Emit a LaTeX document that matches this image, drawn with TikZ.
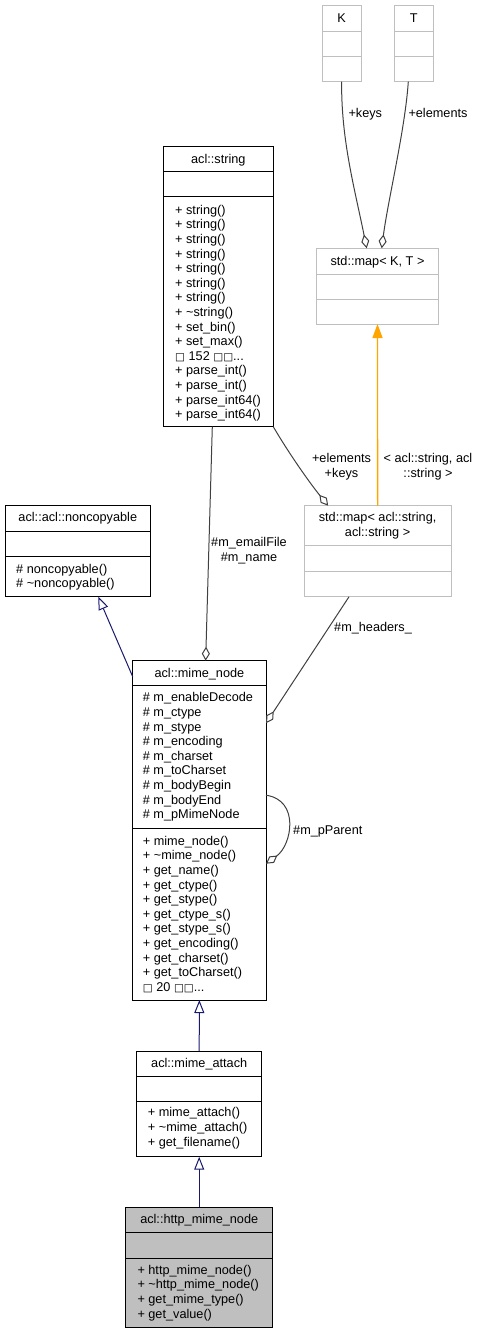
\documentclass[tikz,border=0pt]{standalone}
\usepackage{fontspec}
\setmainfont{Liberation Sans}
\newfontfamily\dejavu{DejaVu Sans}
\usetikzlibrary{arrows.meta}
\definecolor{boxgray}{RGB}{191,191,191}
\definecolor{edgegray}{RGB}{64,64,64}
\definecolor{inhblue}{RGB}{25,25,112}
\definecolor{tmplorange}{RGB}{255,165,0}
\definecolor{hlfill}{RGB}{191,191,191}
\newcommand\gbox{{\dejavu\fontsize{10.5}{14.6}\selectfont □}}
\newcommand\classbox[8]{%
  \node[#8, anchor=north west, minimum width={#4-#2}, minimum height={#5-#3}] (#1) at (#2,#3) {};
  \draw[#8sep] (#2,#6) -- (#4,#6);
  \draw[#8sep] (#2,#7) -- (#4,#7);
}
\tikzset{
  umlfont/.style={font=\fontsize{12.7}{14.6}\selectfont},
  plainbox/.style={draw=black, fill=white, line width=1pt, inner sep=0pt, outer sep=0pt},
  plainboxsep/.style={draw=black, line width=1pt},
  tmplbox/.style={draw=boxgray, fill=white, line width=1pt, inner sep=0pt, outer sep=0pt},
  tmplboxsep/.style={draw=boxgray, line width=1pt},
  hlbox/.style={draw=black, fill=hlfill, line width=1pt, inner sep=0pt, outer sep=0pt},
  hlboxsep/.style={draw=black, line width=1pt},
  title/.style={umlfont, anchor=base, inner sep=0pt},
  members/.style={umlfont, anchor=north west, align=left, inner sep=0pt},
  lbl/.style={umlfont, inner sep=0pt},
  aggr/.style={draw=edgegray, line width=1pt, {Diamond[open, fill=white, length=14pt, width=8pt]}-},
  inh/.style={draw=inhblue, line width=1pt, -{Triangle[open, fill=white, length=13pt, width=10pt]}},
  tmpl/.style={draw=tmplorange, line width=1.3pt, -{Triangle[length=14pt, width=10pt]}},
}
\begin{document}
\begin{tikzpicture}[x=1pt,y=-1pt]
\useasboundingbox (0,0) rectangle (482,1333);

% boxes
\classbox{K}{322.3}{5.7}{361}{81.7}{31.7}{56.7}{tmplbox}
\classbox{T}{394.3}{5.7}{433.3}{81.7}{31.7}{56.7}{tmplbox}
\classbox{kt}{316.7}{248.3}{438.3}{324}{274.3}{299.3}{tmplbox}
\classbox{str}{163.3}{146}{273.3}{426.7}{171}{196}{plainbox}
\classbox{smap}{304.3}{505.7}{451}{596.7}{545.7}{571}{tmplbox}
\classbox{nc}{5}{505}{150.7}{596.7}{531}{556.7}{plainbox}
\classbox{mn}{132.7}{660.7}{266}{1000}{685.7}{828}{plainbox}
\classbox{ma}{136.7}{1051}{261.7}{1156.7}{1076}{1101.7}{plainbox}
\classbox{hmn}{125.7}{1207}{272.7}{1327}{1232}{1258}{hlbox}

% titles
\node[title] (Kt) at (341.6,22.3) {K};
\node[title] (Tt) at (413.8,22.3) {T};
\node[title] (ktt) at (377.5,265.5) {std::map< K, T >};
\node[title] (strt) at (218.3,163) {acl::string};
\node[title] (nct) at (77.8,521.6) {acl::acl::noncopyable};
\node[title] (mnt) at (199.4,677) {acl::mime\_node};
\node[title] (mat) at (199.2,1067) {acl::mime\_attach};
\node[title] (hmnt) at (199.2,1223.3) {acl::http\_mime\_node};
\node[umlfont, anchor=north, align=center, inner sep=0pt] (smapt) at (377.6,512.2)
  {\rule{0pt}{9.5pt}std::map< acl::string,\\acl::string >};

% members
\node[members] (strm) at (175,204.5) {\rule{0pt}{9.5pt}+ string()\\+ string()\\+ string()\\+ string()\\+ string()\\+ string()\\+ string()\\+ \textasciitilde string()\\+ set\_bin()\\+ set\_max()\\\gbox{} 152 \gbox\gbox...\\+ parse\_int()\\+ parse\_int()\\+ parse\_int64()\\+ parse\_int64()};
\node[members] (ncm) at (16,563.5) {\rule{0pt}{9.5pt}\# noncopyable()\\\# \textasciitilde noncopyable()};
\node[members] (mna) at (142.7,692.2) {\rule{0pt}{9.5pt}\# m\_enableDecode\\\# m\_ctype\\\# m\_stype\\\# m\_encoding\\\# m\_charset\\\# m\_toCharset\\\# m\_bodyBegin\\\# m\_bodyEnd\\\# m\_pMimeNode};
\node[members] (mnm) at (142.7,835.5) {\rule{0pt}{9.5pt}+ mime\_node()\\+ \textasciitilde mime\_node()\\+ get\_name()\\+ get\_ctype()\\+ get\_stype()\\+ get\_ctype\_s()\\+ get\_stype\_s()\\+ get\_encoding()\\+ get\_charset()\\+ get\_toCharset()\\\gbox{} 20 \gbox\gbox...};
\node[members] (mam) at (147.7,1107.2) {\rule{0pt}{9.5pt}+ mime\_attach()\\+ \textasciitilde mime\_attach()\\+ get\_filename()};
\node[members] (hmnm) at (137.3,1264.5) {\rule{0pt}{9.5pt}+ http\_mime\_node()\\+ \textasciitilde http\_mime\_node()\\+ get\_mime\_type()\\+ get\_value()};

% connectors
\draw[aggr] ([xshift=-10.8pt]kt.north) .. controls (355,190) and (341,140) .. (K.south);
\draw[aggr] ([xshift=4.2pt]kt.north) .. controls (388,200) and (405,130) .. ([xshift=-5.5pt]T.south);
\draw[tmpl] (smap.north) -- (kt.south);
\draw[aggr] ([xshift=-49.5pt]smap.north) .. controls (309,482) and (288,452) .. (str.south east);
\draw[aggr] ([xshift=6.3pt]mn.north) -- ([xshift=-6pt]str.south);
\draw[inh] ([yshift=-16pt]mn.north west) -- ([xshift=20.4pt]nc.south);
\draw[aggr] ([yshift=-62.5pt]mn.north east) -- ([xshift=-28.6pt]smap.south);
\draw[aggr] ([yshift=-203pt]mn.north east) .. controls (292,845) and (300,800) .. ([yshift=-134.5pt]mn.north east);
\draw[inh] (ma.north) -- (mn.south);
\draw[inh] (hmn.north) -- (ma.south);

% labels
\node[lbl, anchor=base west] (lkeys) at (348.3,117) {+keys};
\node[lbl, anchor=base west] (lelem) at (408.3,117.3) {+elements};
\node[lbl, anchor=north, align=center] (ltmpl) at (428,452.8) {\rule{0pt}{9.5pt}< acl::string, acl\\::string >};
\node[lbl, anchor=north, align=center] (lek) at (341.5,452.8) {\rule{0pt}{9.5pt}+elements\\+keys};
\node[lbl, anchor=north, align=center] (lemail) at (249,537.2) {\rule{0pt}{9.5pt}\#m\_emailFile\\\#m\_name};
\node[lbl, anchor=base west] (lhead) at (334,631) {\#m\_headers\_};
\node[lbl, anchor=base west] (lparent) at (293,834.3) {\#m\_pParent};
\end{tikzpicture}
\end{document}
